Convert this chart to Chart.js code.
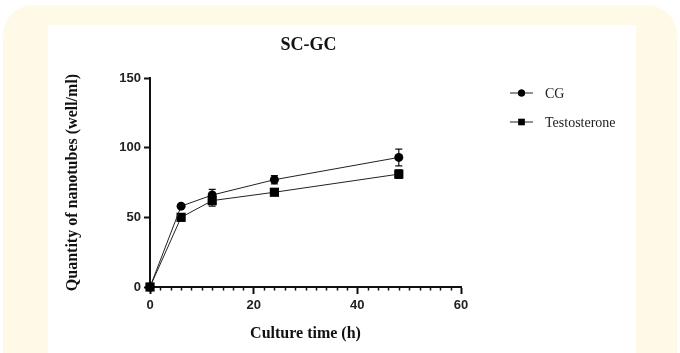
<!DOCTYPE html>
<html>
<head>
<meta charset="utf-8">
<script src="https://cdn.jsdelivr.net/npm/chart.js@4.4.1/dist/chart.umd.min.js"></script>
<style>
  body{margin:0;background:#fff;width:680px;height:353px;overflow:hidden;position:relative}
  .outer{position:absolute;left:3px;top:5px;width:674px;height:390px;background:#fffae8;border-radius:30px}
  .inner{position:absolute;left:48px;top:25px;width:588px;height:340px;background:#fff}
  #wrap{position:absolute;left:0;top:0;width:680px;height:353px}
</style>
</head>
<body>
<div class="outer"></div>
<div class="inner"></div>
<div id="wrap"><canvas id="chart"></canvas></div>
<script>
// culture time (h) and nanotube counts
const timePoints = [0, 6, 12, 24, 48];
const cgValues = [0, 58, 66, 77, 93];
const cgErrors = [0, 1, 4, 3, 6];
const testoValues = [0, 50, 62, 68, 81];
const testoErrors = [0, 1, 4, 2, 3];
const seriesNames = ['CG', 'Testosterone'];
const chartTitle = 'SC-GC';

function toPoints(values){
  return timePoints.map((t, i) => ({x: t, y: values[i]}));
}

const serif = '"Liberation Serif", "Times New Roman", serif';
const sans = '"Liberation Sans", Arial, sans-serif';

// error bars, drawn behind the markers
const errorBars = {
  id: 'errorBars',
  beforeDatasetsDraw(chart){
    const ctx = chart.ctx, ys = chart.scales.y;
    chart.data.datasets.forEach((ds, di) => {
      const meta = chart.getDatasetMeta(di);
      meta.data.forEach((pt, i) => {
        const e = ds.errors[i];
        if (!e) return;
        const v = ds.data[i].y;
        const top = ys.getPixelForValue(v + e), bot = ys.getPixelForValue(v - e);
        ctx.save();
        ctx.strokeStyle = '#111';
        ctx.lineWidth = 1.2;
        ctx.beginPath();
        ctx.moveTo(pt.x, top); ctx.lineTo(pt.x, bot);
        ctx.moveTo(pt.x - 3.5, top); ctx.lineTo(pt.x + 3.5, top);
        ctx.moveTo(pt.x - 3.5, bot); ctx.lineTo(pt.x + 3.5, bot);
        ctx.stroke();
        ctx.restore();
      });
    });
  }
};

// minor ticks on x axis, title and legend
const extras = {
  id: 'extras',
  afterDraw(chart){
    const ctx = chart.ctx, xs = chart.scales.x, area = chart.chartArea;
    ctx.save();
    ctx.strokeStyle = '#111';
    ctx.lineWidth = 1.5;
    ctx.beginPath();
    for (let v = 2; v < 60; v += 2){
      if (v % 20 === 0) continue;
      const px = Math.round(xs.getPixelForValue(v)) + 0.5;
      ctx.moveTo(px, area.bottom); ctx.lineTo(px, area.bottom + 3.5);
    }
    ctx.stroke();

    ctx.fillStyle = '#111';
    ctx.font = 'bold 18px ' + serif;
    ctx.textAlign = 'center';
    ctx.textBaseline = 'middle';
    ctx.fillText(chartTitle, (area.left + area.right) / 2 + 3, 45);

    // legend
    ctx.textAlign = 'left';
    ctx.font = '14px ' + serif;
    chart.data.datasets.forEach((ds, i) => {
      const y = 93 + i * 29;
      ctx.strokeStyle = '#222';
      ctx.lineWidth = 1;
      ctx.beginPath();
      ctx.moveTo(510, y); ctx.lineTo(533, y);
      ctx.stroke();
      Chart.helpers.drawPoint(ctx, {
        pointStyle: ds.pointStyle, radius: i === 0 ? 3.5 : 4.5, rotation: 0, borderWidth: 0
      }, 521.5, y);
      ctx.fillStyle = '#000';
      ctx.fill();
      ctx.fillStyle = '#222';
      ctx.fillText(ds.label, 545, y + 1);
    });
    ctx.restore();
  }
};

new Chart(document.getElementById('chart'), {
  type: 'line',
  data: {
    datasets: [{
      label: seriesNames[0],
      data: toPoints(cgValues),
      errors: cgErrors,
      borderColor: '#222',
      borderWidth: 1,
      pointStyle: 'circle',
      pointRadius: 4.5,
      pointBackgroundColor: '#000',
      pointBorderColor: '#000',
      pointBorderWidth: 0,
      clip: false
    }, {
      label: seriesNames[1],
      data: toPoints(testoValues),
      errors: testoErrors,
      borderColor: '#222',
      borderWidth: 1,
      pointStyle: 'rect',
      pointRadius: 6.5,
      pointBackgroundColor: '#000',
      pointBorderColor: '#000',
      pointBorderWidth: 0,
      clip: false
    }]
  },
  options: {
    responsive: true,
    maintainAspectRatio: false,
    animation: false,
    layout: {padding: {left: 0, right: 219, top: 78, bottom: 0}},
    plugins: {legend: {display: false}, tooltip: {enabled: false}},
    scales: {
      x: {
        type: 'linear',
        min: 0,
        max: 60,
        ticks: {stepSize: 20, color: '#222', padding: 4, font: {family: sans, size: 13, weight: 'bold'}},
        grid: {drawOnChartArea: false, drawTicks: true, tickLength: 7, tickWidth: 2, tickColor: '#111'},
        border: {color: '#111', width: 2},
        title: {display: true, text: 'Culture time (h)', color: '#111', padding: {top: 0, bottom: 10},
          font: {family: serif, size: 16, weight: 'bold'}},
        afterFit(s){ s.height = 66; }
      },
      y: {
        min: 0,
        max: 150,
        ticks: {stepSize: 50, color: '#222', padding: 3, font: {family: sans, size: 13, weight: 'bold'}},
        grid: {drawOnChartArea: false, drawTicks: true, tickLength: 6, tickWidth: 2, tickColor: '#111'},
        border: {color: '#111', width: 2},
        title: {display: true, text: 'Quantity of nanotubes (well/ml)', color: '#111', padding: {top: 63, bottom: 0},
          font: {family: serif, size: 16, weight: 'bold'}},
        afterFit(s){ s.width = 150; }
      }
    }
  },
  plugins: [errorBars, extras]
});
</script>
</body>
</html>
